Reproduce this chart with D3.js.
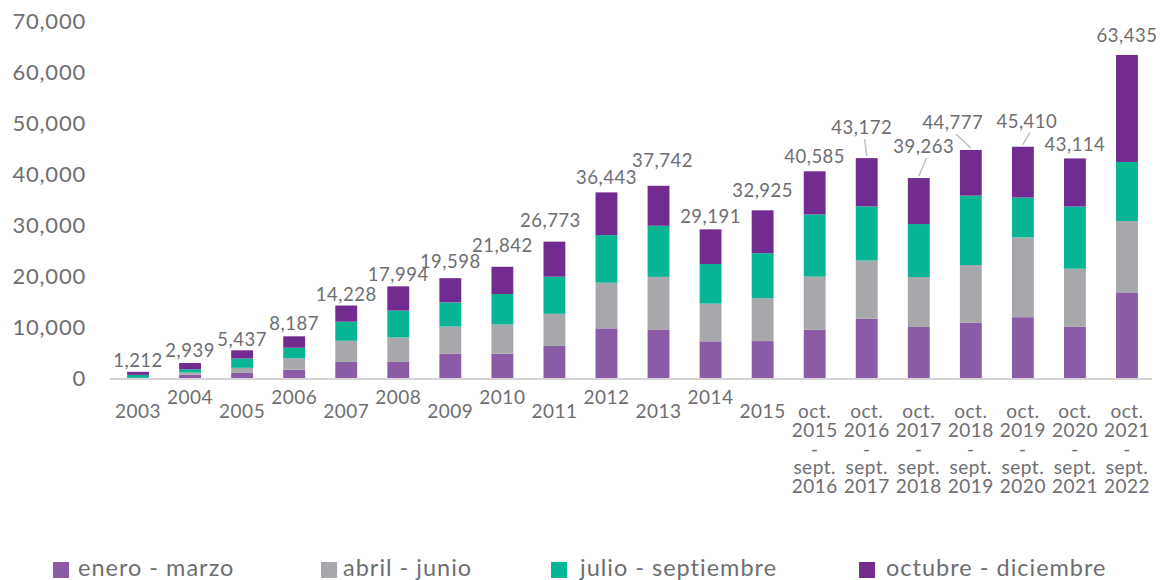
<!DOCTYPE html>
<meta charset="utf-8">
<title>Stacked bars</title>
<script src="https://d3js.org/d3.v7.min.js"></script>
<style>
    body { margin: 0; background: #fff; }
    text { font-family: Lato, "Open Sans", sans-serif; font-weight: 400; fill: #6e6e71; }
</style>
<body>
    <div id="my_dataviz"></div>
    <script>

        // categories (years, then oct - sept periods)
        var categories = ["2003", "2004", "2005", "2006", "2007", "2008", "2009", "2010", "2011", "2012", "2013", "2014", "2015",
            "oct. 2015 - sept. 2016", "oct. 2016 - sept. 2017", "oct. 2017 - sept. 2018", "oct. 2018 - sept. 2019",
            "oct. 2019 - sept. 2020", "oct. 2020 - sept. 2021", "oct. 2021 - sept. 2022"];

        // quarter values
        var eneroMarzo = [10, 650, 1000, 1640, 3160, 3160, 4750, 4770, 6300, 9750, 9440, 7200, 7250, 9460, 11630, 10010, 10900, 11940, 10040, 16690];
        var abrilJunio = [20, 430, 1000, 2250, 4150, 4800, 5350, 5760, 6300, 8960, 10420, 7400, 8430, 10440, 11430, 9820, 11290, 15660, 11420, 14140];
        var julioSeptiembre = [580, 640, 1830, 2050, 3750, 5280, 4750, 5960, 7290, 9350, 10030, 7780, 8820, 12210, 10640, 10400, 13630, 7830, 12210, 11590];
        var octubreDiciembre = [602, 1219, 1607, 2247, 3168, 4754, 4748, 5352, 6883, 8383, 7852, 6811, 8425, 8475, 9472, 9033, 8957, 9980, 9444, 21015];
        var totals = [1212, 2939, 5437, 8187, 14228, 17994, 19598, 21842, 26773, 36443, 37742, 29191, 32925, 40585, 43172, 39263, 44777, 45410, 43114, 63435];

        var seriesNames = ["enero - marzo", "abril - junio", "julio - septiembre", "octubre - diciembre"];
        var yTicks = [0, 10000, 20000, 30000, 40000, 50000, 60000, 70000];

        // label nudges (px) so that total labels don't collide
        var labelLift = [-1, 0, -2, 0, -1, -1, 4, 9, 9, 2, 13, 0, 7, 2, 18, 19, 15, 13, 1, 7];
        var labelShift = [0, 0, 0, 0, 0, 0, 0, 0, -4, 0, 4, 0, 0, 0, -5, 5, -18, 4, 0, 0];
        var leaderLine = [14, 15, 16, 17];

        var colors = ["#8b5ca5", "#a7a8ab", "#07b594", "#722b8e"];

        var width = 1161, height = 580;

        var svg = d3.select("#my_dataviz")
            .append("svg")
            .attr("width", width)
            .attr("height", height);

        var rows = categories.map(function (c, i) {
            return { cat: c, "enero - marzo": eneroMarzo[i], "abril - junio": abrilJunio[i],
                "julio - septiembre": julioSeptiembre[i], "octubre - diciembre": octubreDiciembre[i], total: totals[i] };
        });

        // X scale
        var x = d3.scaleBand()
            .domain(categories)
            .range([112, 1153])
            .paddingInner(0.58)
            .paddingOuter(0.29);

        // Y scale
        var y = d3.scaleLinear()
            .domain([0, 70000])
            .range([378, 21.5]);

        // Y axis labels
        var yAxis = svg.append("g")
            .attr("transform", "translate(86,0)")
            .call(d3.axisLeft(y).tickValues(yTicks).tickSize(0).tickPadding(0).tickFormat(d3.format(",")));
        yAxis.select(".domain").remove();
        yAxis.selectAll("text")
            .style("font-size", "22px")
            .style("letter-spacing", "0.8px")
            .attr("fill", "#6e6e71");

        // stacked bars
        var stacked = d3.stack().keys(seriesNames)(rows);

        svg.append("g")
            .selectAll("g")
            .data(stacked)
            .enter()
            .append("g")
            .attr("fill", function (d, i) { return colors[i]; })
            .selectAll("rect")
            .data(function (d) { return d; })
            .enter()
            .append("rect")
            .attr("x", function (d) { return x(d.data.cat); })
            .attr("y", function (d) { return y(d[1]); })
            .attr("height", function (d) { return y(d[0]) - y(d[1]); })
            .attr("width", x.bandwidth());

        // base line
        svg.append("rect")
            .attr("x", x.range()[0] - 2)
            .attr("y", y(0))
            .attr("width", x.range()[1] - x.range()[0] + 1)
            .attr("height", 2)
            .attr("fill", "#d4d4d4");

        // total labels
        var cx = function (i) { return x(categories[i]) + x.bandwidth() / 2; };
        var labelY = function (i) { return y(totals[i]) - 6 - labelLift[i]; };

        svg.append("g")
            .selectAll("text")
            .data(totals)
            .enter()
            .append("text")
            .attr("x", function (d, i) { return cx(i) + labelShift[i]; })
            .attr("y", function (d, i) { return labelY(i); })
            .attr("text-anchor", "middle")
            .style("font-size", "18.5px")
            .style("letter-spacing", "0.5px")
            .text(function (d) { return d3.format(",")(d); });

        // leader lines for the raised labels
        svg.append("g")
            .selectAll("line")
            .data(leaderLine)
            .enter()
            .append("line")
            .attr("x1", function (i) { return cx(i) + labelShift[i] + 3; })
            .attr("y1", function (i) { return labelY(i) + 5; })
            .attr("x2", function (i) { return cx(i); })
            .attr("y2", function (i) { return y(totals[i]) - 2; })
            .attr("stroke", "#bfbfbf")
            .attr("stroke-width", 1.5);

        // x labels (years staggered, periods wrapped)
        var xl = svg.append("g")
            .selectAll("text")
            .data(categories)
            .enter()
            .append("text")
            .attr("text-anchor", "middle")
            .style("font-size", "19px")
            .style("letter-spacing", "0.5px")
            .attr("y", function (d, i) { return (i % 2 == 1 && i < 13) ? 404 : 418; });

        xl.each(function (d, i) {
            var parts = d.indexOf("oct.") == 0 ? d.split(" ") : [d];
            d3.select(this).selectAll("tspan")
                .data(parts)
                .enter()
                .append("tspan")
                .attr("x", cx(i))
                .attr("dy", function (p, j) { return j == 0 ? 0 : 18.75; })
                .text(function (p) { return p; });
        });

        // legend
        var legendSquare = [53, 321, 551, 859];
        var legendText = [78, 343, 580, 886];
        var legend = svg.append("g")
            .selectAll("g")
            .data(seriesNames)
            .enter()
            .append("g");

        legend.append("rect")
            .attr("x", function (d, i) { return legendSquare[i]; })
            .attr("y", 562)
            .attr("width", 16)
            .attr("height", 16)
            .attr("fill", function (d, i) { return colors[i]; });

        legend.append("text")
            .attr("x", function (d, i) { return legendText[i]; })
            .attr("y", 576)
            .style("font-size", "23.5px")
            .style("letter-spacing", "1px")
            .text(function (d) { return d; });

    </script>
</body>
